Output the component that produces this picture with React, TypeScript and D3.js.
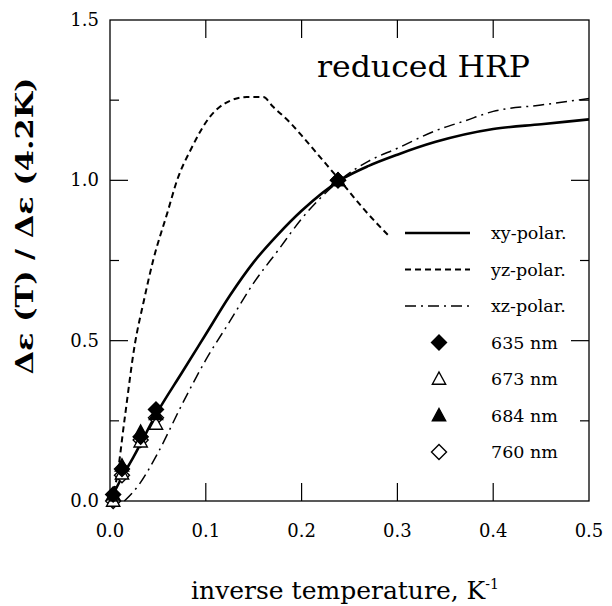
import React from "react";
import * as d3 from "d3";

const xyPolar: [number, number][] = [[0,0],[0.01,0.06],[0.025,0.14],[0.05,0.28],[0.075,0.4],[0.1,0.52],[0.125,0.64],[0.15,0.745],[0.175,0.83],[0.2,0.905],[0.24,1.0],[0.27,1.045],[0.3,1.08],[0.34,1.12],[0.4,1.16],[0.45,1.175],[0.5,1.19]];
const yzPolar: [number, number][] = [[0,0],[0.007,0.07],[0.015,0.25],[0.026,0.49],[0.035,0.62],[0.045,0.75],[0.06,0.9],[0.07,1.0],[0.085,1.1],[0.104,1.197],[0.12,1.24],[0.143,1.26],[0.16,1.26],[0.17,1.23],[0.188,1.18],[0.2,1.14],[0.22,1.07],[0.24,1.0],[0.265,0.91],[0.29,0.83]];
const xzPolar: [number, number][] = [[0.015,0],[0.03,0.05],[0.05,0.15],[0.075,0.3],[0.1,0.44],[0.125,0.56],[0.15,0.68],[0.175,0.78],[0.2,0.88],[0.24,1.0],[0.27,1.06],[0.3,1.1],[0.34,1.155],[0.37,1.185],[0.4,1.215],[0.45,1.235],[0.5,1.255]];

const invTemps = [0.0033, 0.0125, 0.032, 0.048, 0.238];
const nm635 = [0.02, 0.1, 0.2, 0.285, 1.0];
const nm673 = [0.0, 0.085, 0.185, 0.24, 1.0];
const nm684 = [0.02, 0.11, 0.215, 0.27, 1.0];
const nm760 = [0.0, 0.08, 0.19, 0.26, 1.0];

const xTicks = [0, 0.1, 0.2, 0.3, 0.4, 0.5];
const yTicks = [0, 0.5, 1.0, 1.5];
const yMinor = [0.25, 0.75, 1.25];

const FONT = "'DejaVu Serif', serif";

type MarkerKind = "diamond" | "triangle";
function Marker({ kind, filled, x, y }: { kind: MarkerKind; filled: boolean; x: number; y: number }) {
  const s = kind === "diamond" ? 7.5 : 7;
  const d =
    kind === "diamond"
      ? `M${x},${y - s}L${x + s},${y}L${x},${y + s}L${x - s},${y}Z`
      : `M${x},${y - s}L${x + s * 0.95},${y + s * 0.75}L${x - s * 0.95},${y + s * 0.75}Z`;
  return <path d={d} fill={filled ? "#000" : "#fff"} stroke="#000" strokeWidth={1.4} strokeLinejoin="miter" />;
}

export default function App() {
  const left = 110, right = 589, top = 20, bottom = 501;
  const x = d3.scaleLinear().domain([0, 0.5]).range([left, right]);
  const y = d3.scaleLinear().domain([0, 1.5]).range([bottom, top]);
  const line = d3.line<[number, number]>().x((d) => x(d[0])).y((d) => y(d[1])).curve(d3.curveMonotoneX);

  const series = [
    { name: "635 nm", vals: nm635, kind: "diamond" as MarkerKind, filled: true },
    { name: "673 nm", vals: nm673, kind: "triangle" as MarkerKind, filled: false },
    { name: "684 nm", vals: nm684, kind: "triangle" as MarkerKind, filled: true },
    { name: "760 nm", vals: nm760, kind: "diamond" as MarkerKind, filled: false },
  ];
  const drawOrder = [series[3], series[1], series[2], series[0]];
  const lines = [
    { name: "xy-polar.", data: xyPolar, w: 2.6, dash: "" },
    { name: "yz-polar.", data: yzPolar, w: 2, dash: "6,4" },
    { name: "xz-polar.", data: xzPolar, w: 1.5, dash: "11,5,2,5" },
  ];
  const legX1 = 405, legX2 = 470, legText = 491, legY0 = 233, legStep = 36.5;

  return (
    <svg width={612} height={606} style={{ position: "absolute", left: 0, top: 0, background: "#fff" }}>
      <rect x={0} y={0} width={612} height={606} fill="#fff" />
      {lines.map((l) => (
        <path key={l.name} d={line(l.data) || ""} fill="none" stroke="#000" strokeWidth={l.w} strokeDasharray={l.dash} />
      ))}
      {drawOrder.map((s) =>
        s.vals.map((v, i) => <Marker key={s.name + i} kind={s.kind} filled={s.filled} x={x(invTemps[i])} y={y(v)} />)
      )}
      <rect x={left} y={top} width={right - left} height={bottom - top} fill="none" stroke="#000" strokeWidth={1.3} />
      {xTicks.map((t) => (
        <g key={"xt" + t}>
          {t > 0 && t < 0.5 && <line x1={x(t)} x2={x(t)} y1={bottom} y2={bottom - 18} stroke="#000" strokeWidth={1.2} />}
          {t > 0 && t < 0.5 && <line x1={x(t)} x2={x(t)} y1={top} y2={top + 18} stroke="#000" strokeWidth={1.2} />}
          <text x={x(t)} y={537} textAnchor="middle" fontFamily={FONT} fontSize={18}>{t.toFixed(1)}</text>
        </g>
      ))}
      {yTicks.map((t) => (
        <g key={"yt" + t}>
          {t > 0 && t < 1.5 && <line x1={left} x2={left + 18} y1={y(t)} y2={y(t)} stroke="#000" strokeWidth={1.2} />}
          {t > 0 && t < 1.5 && <line x1={right} x2={right - 18} y1={y(t)} y2={y(t)} stroke="#000" strokeWidth={1.2} />}
          <text x={99} y={y(t) + 6} textAnchor="end" fontFamily={FONT} fontSize={18}>{t.toFixed(1)}</text>
        </g>
      ))}
      {yMinor.map((t) => (
        <g key={"ym" + t}>
          <line x1={left} x2={left + 9} y1={y(t)} y2={y(t)} stroke="#000" strokeWidth={1.2} />
          <line x1={right} x2={right - 9} y1={y(t)} y2={y(t)} stroke="#000" strokeWidth={1.2} />
        </g>
      ))}
      <text x={317} y={77} fontFamily={FONT} fontSize={30} textLength={213} lengthAdjust="spacingAndGlyphs">reduced HRP</text>
      {lines.map((l, i) => (
        <g key={"lg" + l.name}>
          <line x1={legX1} x2={legX2} y1={legY0 + i * legStep} y2={legY0 + i * legStep} stroke="#000" strokeWidth={l.w} strokeDasharray={l.dash} />
          <text x={legText} y={legY0 + i * legStep + 6} fontFamily={FONT} fontSize={17.5}>{l.name}</text>
        </g>
      ))}
      {series.map((s, i) => {
        const yy = legY0 + (i + 3) * legStep;
        return (
          <g key={"ls" + s.name}>
            <Marker kind={s.kind} filled={s.filled} x={439} y={yy} />
            <text x={legText} y={yy + 6} fontFamily={FONT} fontSize={17.5}>{s.name}</text>
          </g>
        );
      })}
      <text x={345} y={599} textAnchor="middle" fontFamily={FONT} fontSize={25}>
        inverse temperature, K<tspan dy={-10} fontSize={14}>-1</tspan>
      </text>
      <text transform={`translate(33,226) rotate(-90)`} textAnchor="middle" fontFamily={FONT} fontSize={24} fontWeight="bold" textLength={297} lengthAdjust="spacingAndGlyphs">
        Δε (T) / Δε (4.2K)
      </text>
    </svg>
  );
}
